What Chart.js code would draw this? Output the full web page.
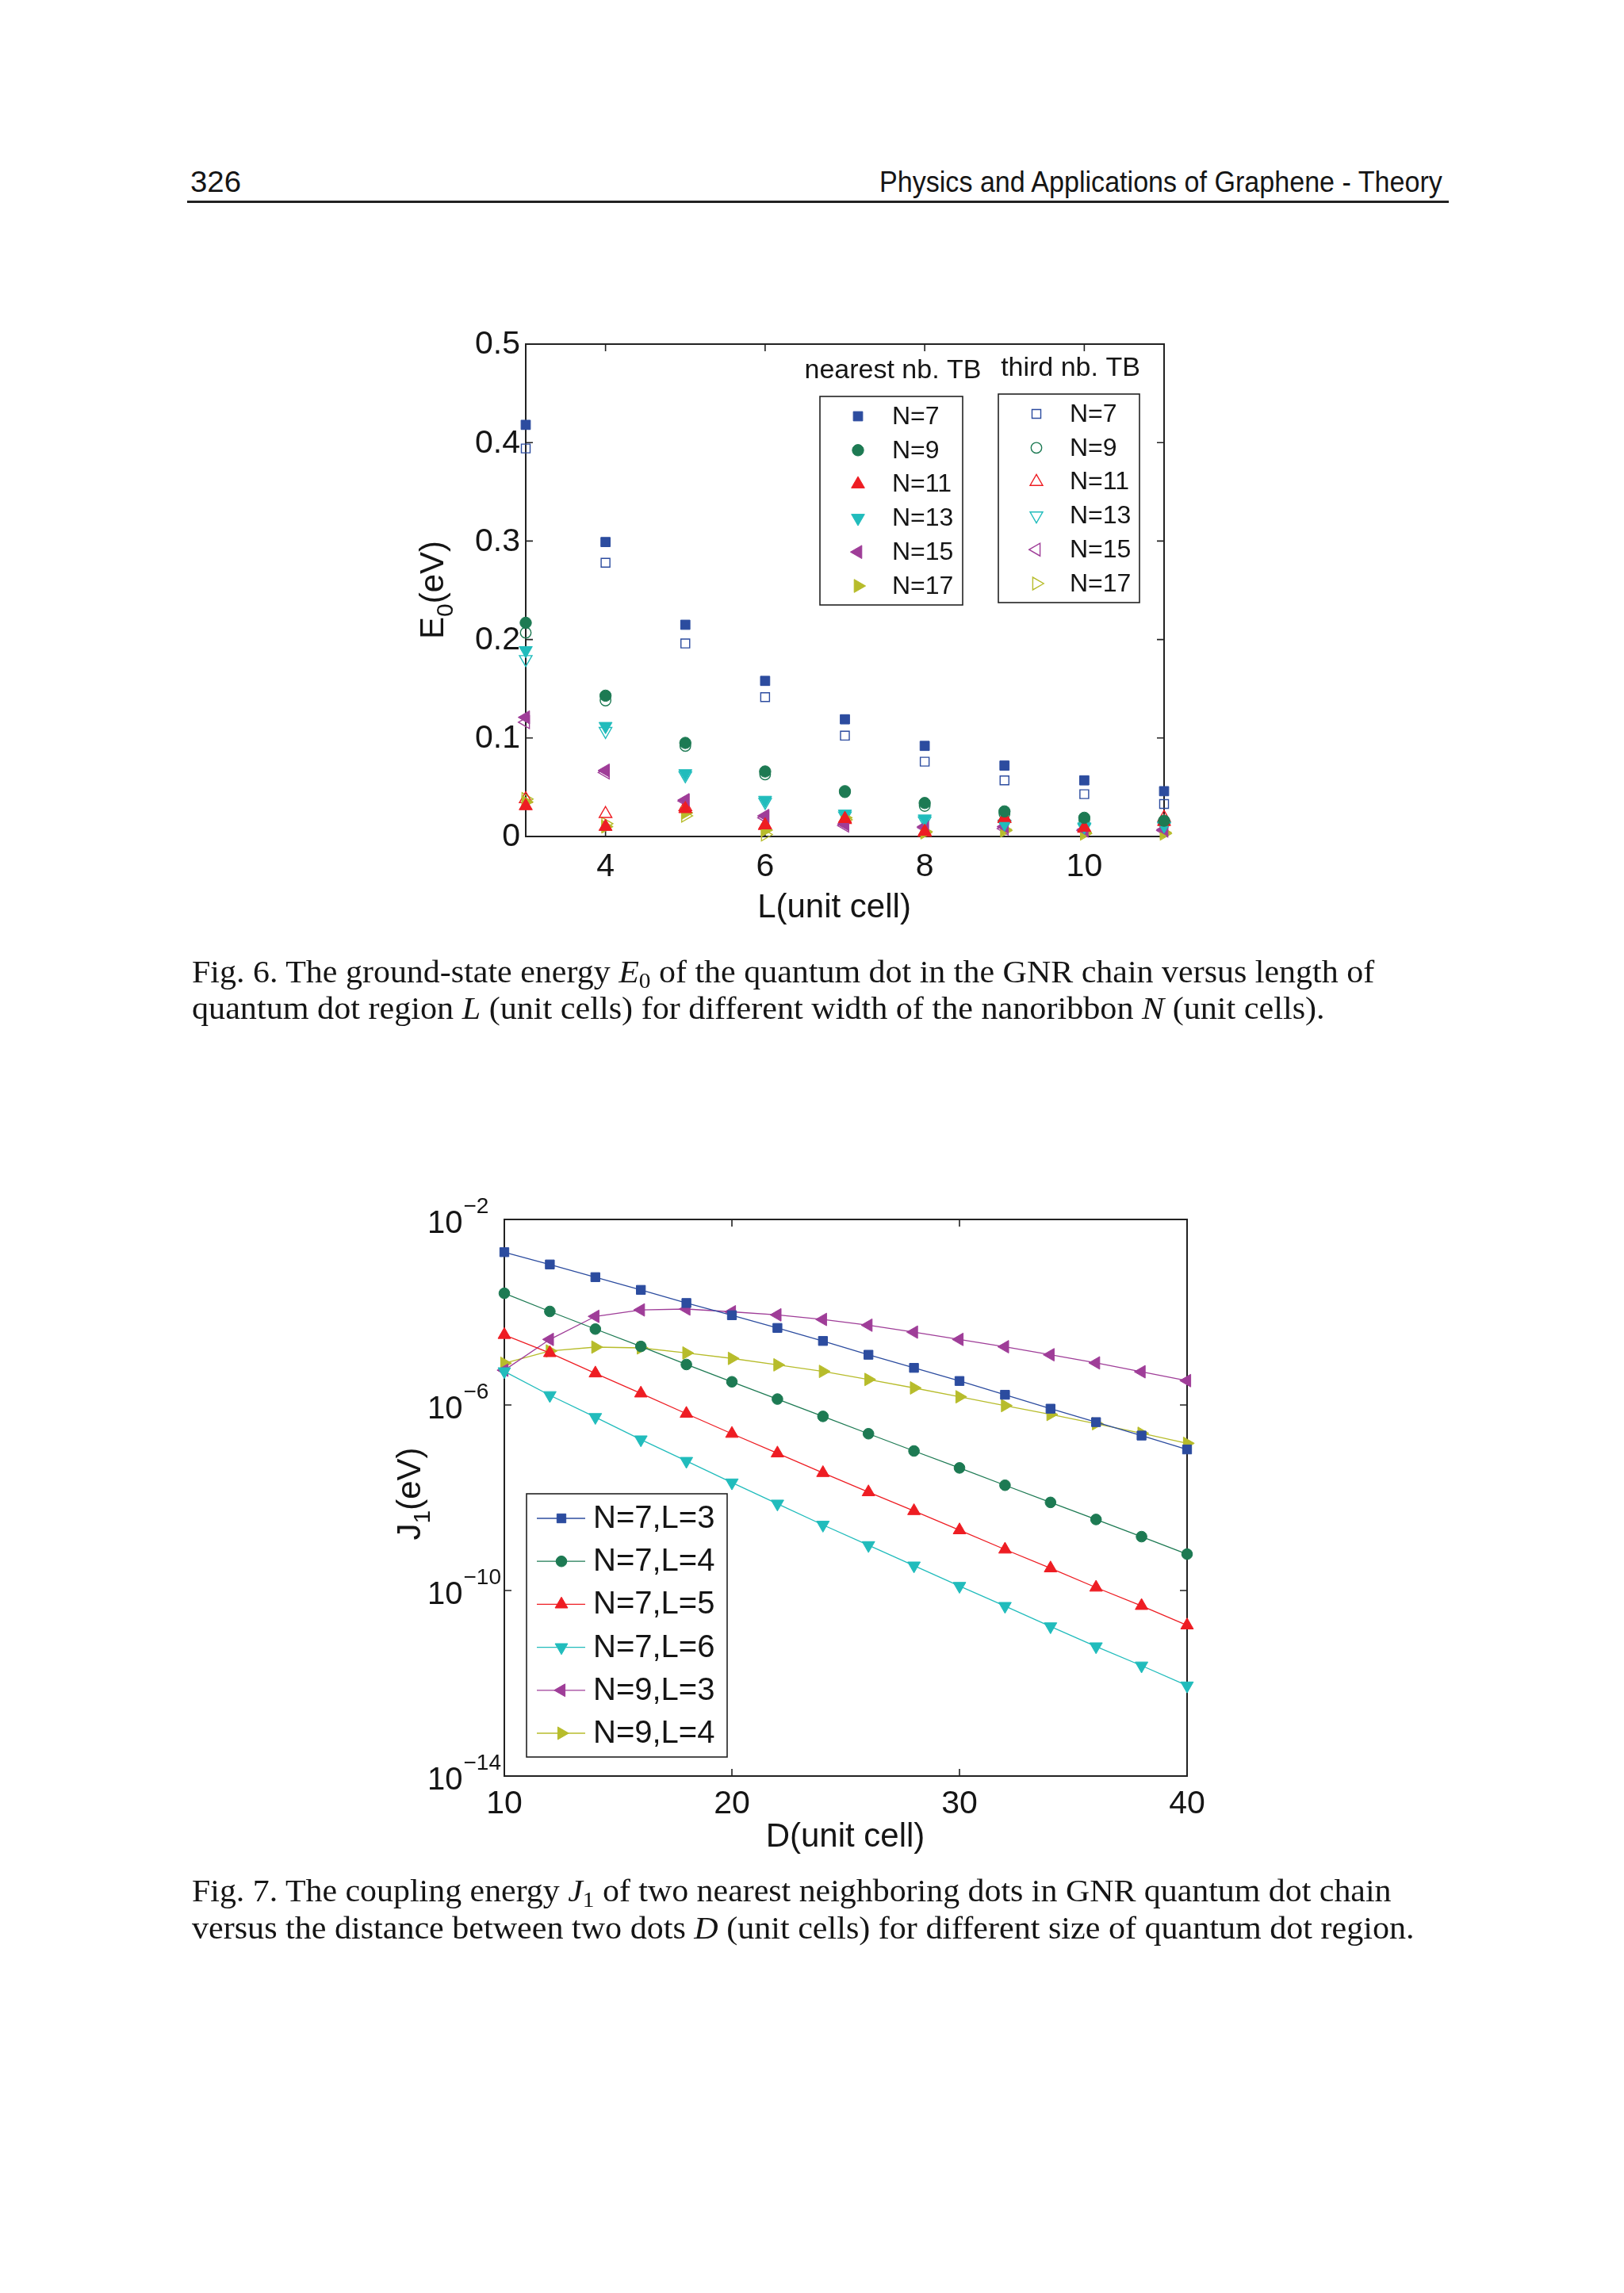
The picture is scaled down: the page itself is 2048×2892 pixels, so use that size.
<!DOCTYPE html>
<html>
<head>
<meta charset="utf-8">
<script src="https://cdn.jsdelivr.net/npm/chart.js@4.4.0/dist/chart.umd.min.js"></script>
<style>
  html, body { margin: 0; padding: 0; background: #fff; }
  #page { position: relative; width: 2048px; height: 2892px; background: #fff; overflow: hidden; }
  .txt { position: absolute; white-space: nowrap; transform-origin: 0 0; color: #151515; }
  .head { font-family: "Liberation Sans", Arial, sans-serif; font-size: 36px; line-height: 36px; }
  .cap { font-family: "Liberation Serif", "Times New Roman", serif; font-size: 40px; line-height: 40px; }
  .cap sub { font-size: 0.7em; vertical-align: baseline; position: relative; top: 0.25em; line-height: 0; }
  #rule { position: absolute; left: 236px; top: 253px; width: 1591px; height: 3px; background: #222; }
  canvas { position: absolute; }
</style>
</head>
<body>
<div id="page">
  <div class="txt head fit" data-w="64" style="left:240px;top:212px;">326</div>
  <div class="txt head fit" data-w="710" style="left:1109px;top:212px;">Physics and Applications of Graphene - Theory</div>
  <div id="rule"></div>

  <canvas id="fig6"></canvas>
  <div class="txt cap fit" data-w="1491" style="left:242px;top:1206px;">Fig. 6. The ground-state energy <i>E</i><sub>0</sub> of the quantum dot in the GNR chain versus length of</div>
  <div class="txt cap fit" data-w="1429" style="left:242px;top:1252px;">quantum dot region <i>L</i> (unit cells) for different width of the nanoribbon <i>N</i> (unit cells).</div>

  <canvas id="fig7"></canvas>
  <div class="txt cap fit" data-w="1513" style="left:242px;top:2365px;">Fig. 7. The coupling energy <i>J</i><sub>1</sub> of two nearest neighboring dots in GNR quantum dot chain</div>
  <div class="txt cap fit" data-w="1542" style="left:242px;top:2412px;">versus the distance between two dots <i>D</i> (unit cells) for different size of quantum dot region.</div>
</div>

<script>
// ---------- Fig. 6 data : E0 (eV) versus L (unit cell) ----------
const lengths = [3, 4, 5, 6, 7, 8, 9, 10, 11];
const widthLabels = ['N=7', 'N=9', 'N=11', 'N=13', 'N=15', 'N=17'];

// nearest neighbour TB (filled markers)
const nearestN7  = [0.418, 0.299, 0.215, 0.158, 0.119, 0.092, 0.072, 0.057, 0.046];
const nearestN9  = [0.217, 0.143, 0.095, 0.066, 0.046, 0.034, 0.0255, 0.019, 0.016];
const nearestN11 = [0.031, 0.010, 0.028, 0.0115, 0.018, 0.005, 0.019, 0.009, 0.015];
const nearestN13 = [0.189, 0.112, 0.064, 0.037, 0.023, 0.018, 0.013, 0.010, 0.011];
const nearestN15 = [0.121, 0.067, 0.037, 0.021, 0.0125, 0.010, 0.010, 0.007, 0.007];
const nearestN17 = [0.035, 0.010, 0.024, 0.0064, 0.019, 0.004, 0.007, 0.004, 0.004];

// third nearest neighbour TB (open markers)
const thirdN7  = [0.394, 0.278, 0.196, 0.1415, 0.1024, 0.076, 0.057, 0.043, 0.033];
const thirdN9  = [0.207, 0.138, 0.092, 0.063, 0.045, 0.031, 0.023, 0.017, 0.015];
const thirdN11 = [0.038, 0.023, 0.030, 0.011, 0.017, 0.004, 0.018, 0.008, 0.019];
const thirdN13 = [0.180, 0.107, 0.062, 0.035, 0.021, 0.016, 0.012, 0.009, 0.010];
const thirdN15 = [0.116, 0.065, 0.036, 0.019, 0.011, 0.009, 0.008, 0.006, 0.006];
const thirdN17 = [0.038, 0.013, 0.021, 0.002, 0.017, 0.005, 0.006, 0.003, 0.003];

const fig6XTicks = [4, 6, 8, 10];
const fig6YTicks = [0, 0.1, 0.2, 0.3, 0.4, 0.5];
const fig6YTickLabels = ['0', '0.1', '0.2', '0.3', '0.4', '0.5'];

// ---------- Fig. 7 data : J1 (eV) versus D (unit cell) ----------
const distances = [10, 12, 14, 16, 18, 20, 22, 24, 26, 28, 30, 32, 34, 36, 38, 40];
const sizeLabels = ['N=7,L=3', 'N=7,L=4', 'N=7,L=5', 'N=7,L=6', 'N=9,L=3', 'N=9,L=4'];

const jN7L3 = [1.97e-3, 1.07e-3, 5.70e-4, 3.03e-4, 1.58e-4, 8.61e-5, 4.58e-5, 2.40e-5,
               1.21e-5, 6.31e-6, 3.29e-6, 1.66e-6, 8.32e-7, 4.27e-7, 2.19e-7, 1.10e-7];
const jN7L4 = [2.56e-4, 1.04e-4, 4.33e-5, 1.83e-5, 7.46e-6, 3.16e-6, 1.34e-6, 5.68e-7,
               2.40e-7, 1.02e-7, 4.40e-8, 1.86e-8, 7.94e-9, 3.40e-9, 1.45e-9, 6.10e-10];
const jN7L5 = [3.25e-5, 1.32e-5, 4.82e-6, 1.78e-6, 6.49e-7, 2.40e-7, 9.08e-8, 3.43e-8,
               1.32e-8, 5.18e-9, 2.00e-9, 7.67e-10, 3.02e-10, 1.16e-10, 4.68e-11, 1.78e-11];
const jN7L6 = [5.30e-6, 1.62e-6, 5.46e-7, 1.80e-7, 6.19e-8, 2.12e-8, 7.43e-9, 2.60e-9,
               9.46e-10, 3.44e-10, 1.25e-10, 4.62e-11, 1.68e-11, 6.22e-12, 2.40e-12, 8.91e-13];
const jN9L3 = [5.62e-6, 2.59e-5, 8.13e-5, 1.12e-4, 1.17e-4, 1.02e-4, 8.77e-5, 6.98e-5,
               5.25e-5, 3.72e-5, 2.59e-5, 1.80e-5, 1.21e-5, 8.07e-6, 5.20e-6, 3.35e-6];
const jN9L4 = [7.94e-6, 1.46e-5, 1.77e-5, 1.70e-5, 1.32e-5, 1.01e-5, 7.33e-6, 5.30e-6,
               3.55e-6, 2.33e-6, 1.50e-6, 9.70e-7, 6.25e-7, 3.95e-7, 2.45e-7, 1.49e-7];

const fig7XTicks = [10, 20, 30, 40];
const fig7YTicks = [1e-2, 1e-6, 1e-10, 1e-14];
const fig7YTickExps = ['\u22122', '\u22126', '\u221210', '\u221214'];

// ---------- styling ----------
const seriesColors = ['#2c4c9f', '#1d7a53', '#ee1d23', '#21bcbc', '#9f3d98', '#b7bc2b'];
const markerStyles = [
  { style: 'rect', rot: 0 },
  { style: 'circle', rot: 0 },
  { style: 'triangle', rot: 0 },
  { style: 'triangle', rot: 180 },
  { style: 'triangle', rot: 270 },
  { style: 'triangle', rot: 90 }
];
const SANS = '"Liberation Sans", Arial, Helvetica, sans-serif';
const INK = '#151515';

function radiusFor(style, kind) {
  if (kind === 'filled') return style === 'rect' ? 8.3 : style === 'circle' ? 7.2 : 9.6;
  if (kind === 'open') return style === 'rect' ? 7.8 : style === 'circle' ? 6.7 : 9.2;
  return style === 'rect' ? 8 : style === 'circle' ? 6.8 : 9.2;
}

function setupCanvas(id, left, top, w, h) {
  const c = document.getElementById(id);
  c.width = w; c.height = h;
  c.style.left = left + 'px'; c.style.top = top + 'px';
  c.style.width = w + 'px'; c.style.height = h + 'px';
  return c;
}

function marker(ctx, ds, x, y) {
  ctx.save();
  ctx.fillStyle = ds.backgroundColor;
  ctx.strokeStyle = ds.borderColor;
  ctx.lineWidth = ds.pointBorderWidth;
  Chart.helpers.drawPoint(ctx, {
    pointStyle: ds.pointStyle, rotation: ds.pointRotation,
    radius: ds.pointRadius, borderWidth: ds.pointBorderWidth
  }, x, y);
  ctx.restore();
}

function drawFrame(chart, xTicks, yTicks) {
  const { ctx, chartArea: a, scales } = chart;
  ctx.save();
  ctx.strokeStyle = '#222';
  ctx.lineWidth = 2;
  ctx.strokeRect(a.left, a.top, a.right - a.left, a.bottom - a.top);
  ctx.lineWidth = 1.6;
  ctx.beginPath();
  const t = 9;
  xTicks.forEach(v => {
    const x = scales.x.getPixelForValue(v);
    ctx.moveTo(x, a.bottom); ctx.lineTo(x, a.bottom - t);
    ctx.moveTo(x, a.top); ctx.lineTo(x, a.top + t);
  });
  yTicks.forEach(v => {
    const y = scales.y.getPixelForValue(v);
    ctx.moveTo(a.left, y); ctx.lineTo(a.left + t, y);
    ctx.moveTo(a.right, y); ctx.lineTo(a.right - t, y);
  });
  ctx.stroke();
  ctx.restore();
}

// rotated axis title with a subscript, baseline at x = bx, centred at y = cy
function drawYTitle(ctx, main, sub, rest, bx, cy) {
  ctx.save();
  ctx.fillStyle = INK;
  ctx.textBaseline = 'alphabetic';
  ctx.textAlign = 'left';
  const big = '42px ' + SANS, small = '30px ' + SANS;
  ctx.font = big; const w1 = ctx.measureText(main).width, w3 = ctx.measureText(rest).width;
  ctx.font = small; const w2 = ctx.measureText(sub).width;
  const total = w1 + w2 + w3;
  ctx.translate(bx, cy);
  ctx.rotate(-Math.PI / 2);
  let x = -total / 2;
  ctx.font = big; ctx.fillText(main, x, 0); x += w1;
  ctx.font = small; ctx.fillText(sub, x, 12); x += w2;
  ctx.font = big; ctx.fillText(rest, x, 0);
  ctx.restore();
}

const hiddenAxis = { grid: { display: false }, border: { display: false }, ticks: { display: false } };

// ---------- Fig. 6 ----------
const nearestSeries = [nearestN7, nearestN9, nearestN11, nearestN13, nearestN15, nearestN17];
const thirdSeries = [thirdN7, thirdN9, thirdN11, thirdN13, thirdN15, thirdN17];

const fig6Datasets = [];
nearestSeries.forEach((vals, i) => {
  const m = markerStyles[i];
  fig6Datasets.push({
    label: widthLabels[i], group: 'nearest',
    data: lengths.map((L, k) => ({ x: L, y: vals[k] })),
    showLine: false, clip: false,
    pointStyle: m.style, pointRotation: m.rot, pointRadius: radiusFor(m.style, 'filled'),
    backgroundColor: seriesColors[i], borderColor: seriesColors[i], pointBorderWidth: 1
  });
});
thirdSeries.forEach((vals, i) => {
  const m = markerStyles[i];
  fig6Datasets.push({
    label: widthLabels[i], group: 'third',
    data: lengths.map((L, k) => ({ x: L, y: vals[k] })),
    showLine: false, clip: false,
    pointStyle: m.style, pointRotation: m.rot, pointRadius: radiusFor(m.style, 'open'),
    backgroundColor: 'rgba(255,255,255,0)', borderColor: seriesColors[i], pointBorderWidth: 1.4
  });
});

const fig6Decor = {
  id: 'fig6Decor',
  beforeDatasetsDraw(chart) { drawFrame(chart, fig6XTicks, fig6YTicks); },
  afterDraw(chart) {
    const { ctx, chartArea: a, scales } = chart;
    ctx.save();
    ctx.fillStyle = INK;
    ctx.font = '41px ' + SANS;
    ctx.textAlign = 'right'; ctx.textBaseline = 'middle';
    fig6YTicks.forEach((v, i) => ctx.fillText(fig6YTickLabels[i], a.left - 7, scales.y.getPixelForValue(v) + 1));
    ctx.textAlign = 'center'; ctx.textBaseline = 'alphabetic';
    fig6XTicks.forEach(v => ctx.fillText(String(v), scales.x.getPixelForValue(v), a.bottom + 50));
    ctx.font = '42px ' + SANS;
    ctx.fillText('L(unit cell)', 652, a.bottom + 102);
    ctx.restore();
    drawYTitle(ctx, 'E', '0', '(eV)', 159, 364);

    // two legend boxes
    const boxes = [
      { group: 'nearest', title: 'nearest nb. TB', tx: 726, ty: 97, x: 634, y: 120, w: 180, h: 263, mx: 682, lx: 725, row0: 145 },
      { group: 'third', title: 'third nb. TB', tx: 950, ty: 94, x: 859, y: 117, w: 178, h: 263, mx: 907, lx: 949, row0: 142 }
    ];
    boxes.forEach(b => {
      ctx.save();
      ctx.fillStyle = '#fff';
      ctx.fillRect(b.x, b.y, b.w, b.h);
      ctx.strokeStyle = '#222'; ctx.lineWidth = 1.6;
      ctx.strokeRect(b.x, b.y, b.w, b.h);
      ctx.fillStyle = INK;
      ctx.font = '34px ' + SANS; ctx.textAlign = 'center'; ctx.textBaseline = 'alphabetic';
      ctx.fillText(b.title, b.tx, b.ty);
      ctx.font = '32px ' + SANS; ctx.textAlign = 'left'; ctx.textBaseline = 'middle';
      chart.data.datasets.filter(d => d.group === b.group).forEach((d, i) => {
        const y = b.row0 + i * 42.8;
        marker(ctx, d, b.mx, y);
        ctx.fillStyle = INK;
        ctx.fillText(d.label, b.lx, y + 1);
      });
      ctx.restore();
    });
  }
};

setupCanvas('fig6', 400, 380, 1150, 830);
new Chart('fig6', {
  type: 'scatter',
  data: { datasets: fig6Datasets },
  options: {
    responsive: false, animation: false, devicePixelRatio: 1,
    layout: { autoPadding: false, padding: { left: 263, top: 54, right: 82, bottom: 155 } },
    plugins: { legend: { display: false }, tooltip: { enabled: false } },
    scales: {
      x: Object.assign({ type: 'linear', min: 3, max: 11, display: false }, hiddenAxis),
      y: Object.assign({ type: 'linear', min: 0, max: 0.5, display: false }, hiddenAxis)
    }
  },
  plugins: [fig6Decor]
});

// ---------- Fig. 7 ----------
const jSeries = [jN7L3, jN7L4, jN7L5, jN7L6, jN9L3, jN9L4];
const fig7Datasets = jSeries.map((vals, i) => {
  const m = markerStyles[i];
  return {
    label: sizeLabels[i],
    data: distances.map((D, k) => ({ x: D, y: vals[k] })),
    showLine: true, clip: false, tension: 0,
    borderColor: seriesColors[i], borderWidth: 1.3,
    pointStyle: m.style, pointRotation: m.rot, pointRadius: radiusFor(m.style, 'line'),
    backgroundColor: seriesColors[i], pointBackgroundColor: seriesColors[i],
    pointBorderColor: seriesColors[i], pointBorderWidth: 1
  };
});

const fig7Decor = {
  id: 'fig7Decor',
  beforeDatasetsDraw(chart) { drawFrame(chart, fig7XTicks, fig7YTicks); },
  afterDraw(chart) {
    const { ctx, chartArea: a, scales } = chart;
    ctx.save();
    ctx.fillStyle = INK;
    ctx.textAlign = 'left'; ctx.textBaseline = 'alphabetic';
    fig7YTicks.forEach((v, i) => {
      const y = scales.y.getPixelForValue(v);
      ctx.font = '40px ' + SANS;
      ctx.fillText('10', 119, y + 17);
      const w = ctx.measureText('10').width;
      ctx.font = '28px ' + SANS;
      ctx.fillText(fig7YTickExps[i], 119 + w + 1, y - 8);
    });
    ctx.font = '41px ' + SANS;
    ctx.textAlign = 'center';
    fig7XTicks.forEach(v => ctx.fillText(String(v), scales.x.getPixelForValue(v), a.bottom + 47));
    ctx.font = '42px ' + SANS;
    ctx.fillText('D(unit cell)', 646, a.bottom + 89);
    ctx.restore();
    drawYTitle(ctx, 'J', '1', '(eV)', 110, 424);

    // legend
    ctx.save();
    const bx = 244, by = 424, bw = 253, bh = 332;
    ctx.fillStyle = '#fff';
    ctx.fillRect(bx, by, bw, bh);
    ctx.strokeStyle = '#222'; ctx.lineWidth = 1.6;
    ctx.strokeRect(bx, by, bw, bh);
    ctx.font = '40px ' + SANS; ctx.textAlign = 'left'; ctx.textBaseline = 'middle';
    chart.data.datasets.forEach((d, i) => {
      const y = 455 + i * 54.2;
      ctx.strokeStyle = d.borderColor; ctx.lineWidth = d.borderWidth;
      ctx.beginPath(); ctx.moveTo(257, y); ctx.lineTo(318, y); ctx.stroke();
      marker(ctx, { backgroundColor: d.pointBackgroundColor, borderColor: d.pointBorderColor,
        pointBorderWidth: d.pointBorderWidth, pointStyle: d.pointStyle,
        pointRotation: d.pointRotation, pointRadius: d.pointRadius }, 288, y);
      ctx.fillStyle = INK;
      ctx.fillText(d.label, 328, y + 1);
    });
    ctx.restore();
  }
};

setupCanvas('fig7', 420, 1460, 1150, 920);
new Chart('fig7', {
  type: 'scatter',
  data: { datasets: fig7Datasets },
  options: {
    responsive: false, animation: false, devicePixelRatio: 1,
    layout: { autoPadding: false, padding: { left: 216, top: 78, right: 73, bottom: 140 } },
    plugins: { legend: { display: false }, tooltip: { enabled: false } },
    scales: {
      x: Object.assign({ type: 'linear', min: 10, max: 40, display: false }, hiddenAxis),
      y: Object.assign({ type: 'logarithmic', min: 1e-14, max: 1e-2, display: false }, hiddenAxis)
    }
  },
  plugins: [fig7Decor]
});

// squeeze page texts to the widths they take in the printed page
document.querySelectorAll('.fit').forEach(el => {
  const w = el.offsetWidth;
  el.style.transform = 'scaleX(' + (parseFloat(el.dataset.w) / w) + ')';
});
</script>
</body>
</html>
